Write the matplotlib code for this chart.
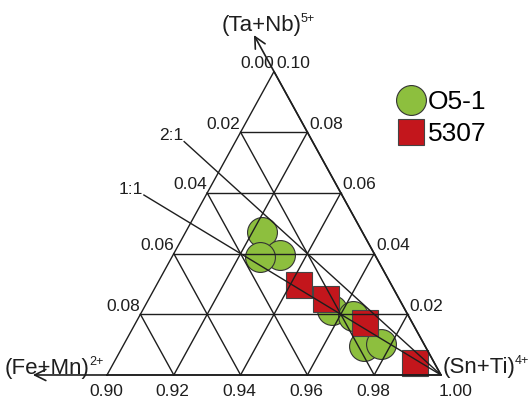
import numpy as np
import matplotlib
matplotlib.use("Agg")
import matplotlib.pyplot as plt

plt.rcParams['font.family'] = ['Liberation Sans', 'DejaVu Sans']

# 시료 조성 (Sn+Ti, Ta+Nb, Fe+Mn)
o51_sn_ti = [0.9227, 0.9320, 0.9263, 0.9566, 0.9640, 0.9721, 0.9769]
o51_ta_nb = [0.0472, 0.0395, 0.0390, 0.0214, 0.0195, 0.0096, 0.0101]
o51_fe_mn = [0.0301, 0.0285, 0.0347, 0.0220, 0.0165, 0.0183, 0.0130]

s5307_sn_ti = [0.9428, 0.9530, 0.9685, 0.9902]
s5307_ta_nb = [0.0296, 0.0249, 0.0172, 0.0040]
s5307_fe_mn = [0.0277, 0.0221, 0.0143, 0.0058]

bottom_ticks = [0.90, 0.92, 0.94, 0.96, 0.98, 1.00]
left_ticks = [0.00, 0.02, 0.04, 0.06, 0.08]
right_ticks = [0.10, 0.08, 0.06, 0.04, 0.02]

ratio_lines = ['1:1', '2:1']
ratio_tanb_per_femn = [1.0, 2.0]
ratio_line_end_tanb = [0.0593, 0.0769]

green = '#8dbf3e'
red = '#c3161c'
ink = '#1e1e1e'


def to_xy(sn, ta):
    # 부분 삼각도: Sn+Ti 0.9~1.0, Ta+Nb 0~0.1
    a = (np.asarray(sn) - 0.9) / 0.1
    b = np.asarray(ta) / 0.1
    return a + b / 2, b


fig = plt.figure(figsize=(5.32, 4.01), dpi=100)
ax = fig.add_axes([0, 0, 1, 1])
ax.set_xlim(-0.3204, 1.2725)
ax.set_ylim(-0.0857, 1.2356)
ax.axis('off')
renderer = fig.canvas.get_renderer()


def add_sup(txt, sup):
    # 위 첨자를 본문 글자 오른쪽 위에 붙임
    bb = txt.get_window_extent(renderer=renderer)
    fig.text(bb.x1 - 1, bb.y1 + 2, sup, transform=None, ha='left', va='top',
             fontsize=9, color=ink)


lw = 1.0
# 삼각형 테두리
tri = to_xy([0.9, 1.0, 0.9, 0.9], [0.0, 0.0, 0.1, 0.0])
ax.plot(tri[0], tri[1], color=ink, lw=lw, zorder=3)

# 격자
for k in np.arange(0.02, 0.1, 0.02):
    # Ta+Nb 일정
    x, y = to_xy([0.9, 1.0 - k], [k, k])
    ax.plot(x, y, color=ink, lw=lw, zorder=3)
    # Sn+Ti 일정
    x, y = to_xy([0.9 + k, 0.9 + k], [0.0, 0.1 - k])
    ax.plot(x, y, color=ink, lw=lw, zorder=3)
    # Fe+Mn 일정
    x, y = to_xy([1.0 - k, 0.9], [0.0, 0.1 - k])
    ax.plot(x, y, color=ink, lw=lw, zorder=3)

# 화살표 (축 연장)
x0, y0 = to_xy(1.0, 0.0)
x1, y1 = to_xy(1.0 - 0.112, 0.112)
ax.annotate('', xy=(x1, y1), xytext=(x0, y0),
            arrowprops=dict(arrowstyle='->', color=ink, lw=1.2, mutation_scale=20,
                            shrinkA=0, shrinkB=0), zorder=3)
x2, y2 = to_xy(0.9 - 0.0222, 0.0)
ax.annotate('', xy=(x2, y2), xytext=(x0, y0),
            arrowprops=dict(arrowstyle='->', color=ink, lw=1.2, mutation_scale=20,
                            shrinkA=0, shrinkB=0), zorder=3)

# 비율선
for name, r, tend in zip(ratio_lines, ratio_tanb_per_femn, ratio_line_end_tanb):
    fe = tend / r
    x, y = to_xy([1.0, 1.0 - tend - fe], [0.0, tend])
    ax.plot(x, y, color=ink, lw=lw, zorder=3)
    ax.annotate(name, xy=(x[1], y[1]), xytext=(-1, 6), textcoords='offset pixels',
                ha='right', va='center', fontsize=12.5, color=ink)

# 데이터
x, y = to_xy(o51_sn_ti, o51_ta_nb)
ax.plot(x, y, 'o', ms=21.5, mfc=green, mec='#333333', mew=0.8, ls='none', zorder=1, label='O5-1')
x, y = to_xy(s5307_sn_ti, s5307_ta_nb)
ax.plot(x, y, 's', ms=19, mfc=red, mec='#444444', mew=0.8, ls='none', zorder=2, label='5307')

# 눈금 라벨
for v in bottom_ticks:
    x, y = to_xy(v, 0.0)
    if v == 1.00:
        ax.annotate('%.2f' % v, xy=(x, y), xytext=(-2, -17), textcoords='offset pixels',
                    ha='left', va='center', fontsize=12.5, color=ink)
    else:
        ax.annotate('%.2f' % v, xy=(x, y), xytext=(-1, -17), textcoords='offset pixels',
                    ha='center', va='center', fontsize=12.5, color=ink)
for v in left_ticks:
    x, y = to_xy(0.9, 0.1 - v)
    ax.annotate('%.2f' % v, xy=(x, y), xytext=(0, 8), textcoords='offset pixels',
                ha='right', va='center', fontsize=12.5, color=ink)
for v in right_ticks:
    x, y = to_xy(1.0 - v, v)
    ax.annotate('%.2f' % v, xy=(x, y), xytext=(2, 8), textcoords='offset pixels',
                ha='left', va='center', fontsize=12.5, color=ink)

# 꼭짓점 라벨
x, y = to_xy(0.9, 0.1)
t = ax.annotate('(Ta+Nb)', xy=(x, y), xytext=(28, 41), textcoords='offset pixels',
                ha='right', va='baseline', fontsize=16, color=ink)
add_sup(t, '5+')
x, y = to_xy(1.0, 0.0)
t = ax.annotate('(Sn+Ti)', xy=(x, y), xytext=(2, 2), textcoords='offset pixels',
                ha='left', va='baseline', fontsize=16, color=ink)
add_sup(t, '4+')
t = ax.text(5, 27, '(Fe+Mn)', transform=None, ha='left', va='baseline',
            fontsize=16, color=ink)
add_sup(t, '2+')

ax.legend(loc='center left', bbox_to_anchor=(0.7477, 0.7047), bbox_transform=fig.transFigure,
          frameon=False, fontsize=19, handlelength=1.0, handletextpad=0.15,
          labelspacing=0.3, borderpad=0, borderaxespad=0, markerscale=1.0)

fig.savefig('out.png', dpi=100)
